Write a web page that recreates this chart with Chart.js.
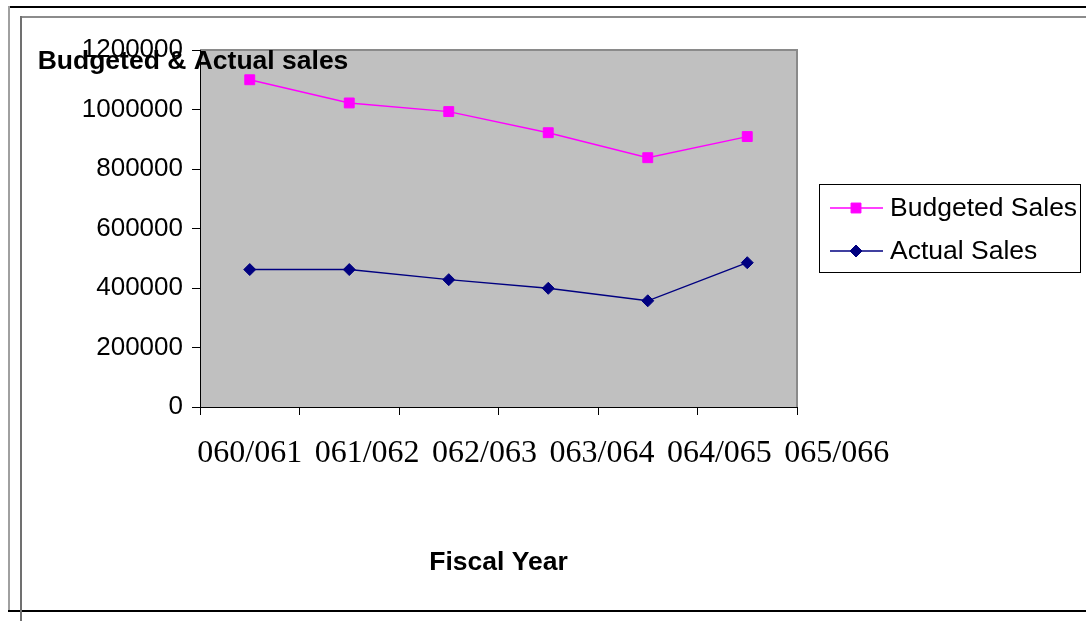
<!DOCTYPE html>
<html>
<head>
<meta charset="utf-8">
<title>Budgeted &amp; Actual sales</title>
<script src="https://cdn.jsdelivr.net/npm/chart.js@4.4.1/dist/chart.umd.min.js"></script>
<style>
  html, body { margin: 0; padding: 0; background: #fff; }
  #wrap { position: relative; width: 1086px; height: 621px; overflow: hidden; }
  .rule { position: absolute; }
  canvas { position: absolute; left: 0; top: 0; }
</style>
</head>
<body>
<div id="wrap">
  <!-- sheet frame lines -->
  <div class="rule" style="left:8px; top:6px; width:1078px; height:2px; background:#000"></div>
  <div class="rule" style="left:8px; top:6px; width:2px; height:606px; background:#a0a0a0"></div>
  <div class="rule" style="left:8px; top:610px; width:1078px; height:2px; background:#000"></div>
  <div class="rule" style="left:20px; top:16px; width:1066px; height:2px; background:#8c8c8c"></div>
  <div class="rule" style="left:20px; top:16px; width:2px; height:605px; background:#707070"></div>
  <canvas id="salesChart" width="1086" height="621"></canvas>
</div>

<script>
// sales figures per fiscal year
const fiscalYears = ['060/061', '061/062', '062/063', '063/064', '064/065', '065/066'];
const budgetedSales = [1100000, 1022000, 993000, 922000, 838000, 909000];
const actualSales = [462000, 462000, 428000, 399000, 357000, 485000];
const seriesNames = ['Budgeted Sales', 'Actual Sales'];

const chartTitle = 'Budgeted & Actual sales';
const xAxisTitle = 'Fiscal Year';

const sansFont = 'Arial, "Liberation Sans", sans-serif';
const serifFont = '"Times New Roman", "Liberation Serif", serif';

// grey plot area with a thin darker frame on top and right
const plotBackground = {
  id: 'plotBackground',
  beforeDraw(chart) {
    const { ctx, chartArea: a } = chart;
    ctx.save();
    ctx.fillStyle = '#C0C0C0';
    ctx.fillRect(a.left, a.top, a.right - a.left, a.bottom - a.top);
    ctx.strokeStyle = '#8a8a8a';
    ctx.lineWidth = 2;
    ctx.beginPath();
    ctx.moveTo(a.left, a.top);
    ctx.lineTo(a.right, a.top);
    ctx.lineTo(a.right, a.bottom);
    ctx.stroke();
    ctx.restore();
  }
};

// titles, category labels and the boxed legend
const sheetText = {
  id: 'sheetText',
  afterDraw(chart) {
    const { ctx, chartArea: a } = chart;
    const x = chart.scales.x;
    ctx.save();
    ctx.fillStyle = '#000';

    // chart title
    ctx.font = 'bold 26.5px ' + sansFont;
    ctx.textAlign = 'center';
    ctx.textBaseline = 'alphabetic';
    ctx.fillText(chartTitle, 193, 69);

    // x axis title
    ctx.fillText(xAxisTitle, (a.left + a.right) / 2, 570);

    // category labels, spread wider than the categories
    const first = x.getPixelForValue(0);
    const pitch = (x.getPixelForValue(1) - first) * 1.18;
    ctx.font = '32px ' + serifFont;
    fiscalYears.forEach((label, i) => {
      ctx.fillText(label, first + i * pitch, 462);
    });

    // legend box
    const box = { left: 819, top: 184, right: 1080, bottom: 272 };
    ctx.strokeStyle = '#000';
    ctx.lineWidth = 1;
    ctx.strokeRect(box.left + 0.5, box.top + 0.5, box.right - box.left, box.bottom - box.top);

    ctx.font = '26.5px ' + sansFont;
    ctx.textAlign = 'left';
    ctx.textBaseline = 'middle';
    chart.data.datasets.forEach((ds, i) => {
      const y = 208 + i * 43;
      ctx.strokeStyle = ds.borderColor;
      ctx.lineWidth = ds.borderWidth;
      ctx.beginPath();
      ctx.moveTo(830, y);
      ctx.lineTo(883, y);
      ctx.stroke();
      ctx.fillStyle = ds.pointBackgroundColor;
      ctx.strokeStyle = ds.pointBorderColor;
      ctx.lineWidth = 1;
      Chart.helpers.drawPoint(ctx, {
        pointStyle: ds.pointStyle,
        radius: ds.pointRadius,
        rotation: 0,
        borderWidth: 1
      }, 856, y);
      ctx.fillStyle = '#000';
      ctx.fillText(ds.label, 890, y + 1);
    });
    ctx.restore();
  }
};

const ctx = document.getElementById('salesChart').getContext('2d');
const salesChart = new Chart(ctx, {
  type: 'line',
  data: {
    labels: fiscalYears,
    datasets: [
      {
        label: seriesNames[0],
        data: budgetedSales,
        borderColor: '#FF00FF',
        backgroundColor: '#FF00FF',
        pointBackgroundColor: '#FF00FF',
        pointBorderColor: '#FF00FF',
        pointStyle: 'rect',
        pointRadius: 7,
        pointBorderWidth: 1,
        borderWidth: 1.4,
        tension: 0
      },
      {
        label: seriesNames[1],
        data: actualSales,
        borderColor: '#000080',
        backgroundColor: '#000080',
        pointBackgroundColor: '#000080',
        pointBorderColor: '#000080',
        pointStyle: 'rectRot',
        pointRadius: 6,
        pointBorderWidth: 1,
        borderWidth: 1.4,
        tension: 0
      }
    ]
  },
  options: {
    responsive: false,
    animation: false,
    events: [],
    layout: {
      padding: { left: 0, top: 50, right: 289, bottom: 194 }
    },
    plugins: {
      legend: { display: false },
      title: { display: false },
      tooltip: { enabled: false }
    },
    scales: {
      x: {
        type: 'category',
        offset: true,
        grid: {
          offset: true,
          drawOnChartArea: false,
          tickLength: 8,
          color: '#000'
        },
        border: { color: '#000', width: 1 },
        ticks: { display: false },
        afterFit(scale) { scale.height = 20; }
      },
      y: {
        min: 0,
        max: 1200000,
        grid: {
          drawOnChartArea: false,
          tickLength: 8,
          color: '#000'
        },
        border: { color: '#000', width: 1 },
        ticks: {
          stepSize: 200000,
          padding: 9,
          color: '#000',
          font: { family: sansFont, size: 26 },
          callback: (v) => String(v)
        },
        afterFit(scale) { scale.width = 200; }
      }
    }
  },
  plugins: [plotBackground, sheetText]
});
</script>
</body>
</html>
